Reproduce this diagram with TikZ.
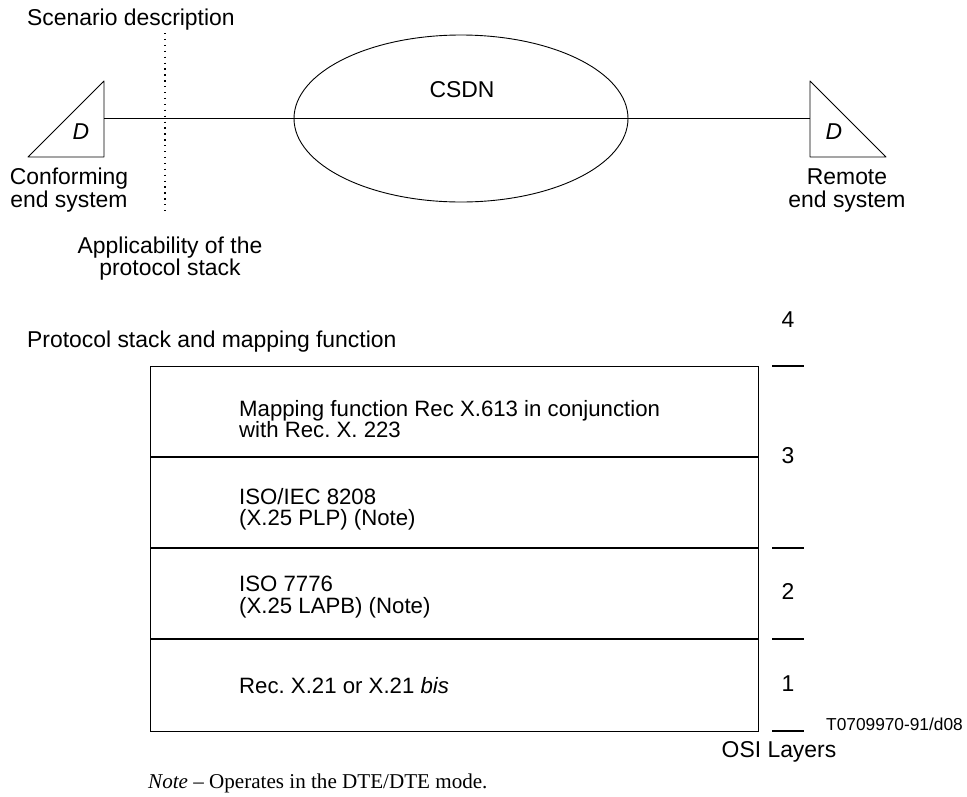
\documentclass[tikz,border=0pt]{standalone}
\usepackage{fontspec}
\setmainfont{Liberation Sans}
\newfontfamily\notefont{Liberation Serif}
\usetikzlibrary{shapes.geometric}
\AtBeginDocument{\frenchspacing}
\tikzset{
  lbl/.style={inner sep=0pt,font=\fontsize{22.9}{23}\selectfont,anchor=base},
  lbll/.style={lbl,anchor=base west},
  boxt/.style={lbll,font=\fontsize{22.2}{23}\selectfont},
  lin/.style={line width=0.9pt,black},
  thick line/.style={line width=1.4pt,black}
}
\begin{document}
\begin{tikzpicture}[x=1pt,y=-1pt]
\useasboundingbox (0,0) rectangle (967,796);
% Scenario
\node[lbll] (scen) at (27,25) {Scenario description};
\coordinate (dtop) at (165,33);
\coordinate (dbot) at (165,211);
\draw[line width=1.2pt,dash pattern=on 1.3pt off 4.6pt] (dtop) -- (dbot);
\coordinate (la) at (28,157);
\coordinate (lb) at (104,157);
\coordinate (lc) at (104,81);
\draw[lin,line join=round] (la) -- (lb) -- (lc) -- cycle;
\coordinate (ra) at (886,157);
\coordinate (rb) at (810,157);
\coordinate (rc) at (810,81);
\draw[lin,line join=round] (ra) -- (rb) -- (rc) -- cycle;
\node[draw,lin,ellipse,minimum width=334pt,minimum height=167pt,inner sep=0pt] (csdn) at (461,118.5) {};
\coordinate (lw) at (104,118);
\coordinate (re) at (810,118);
\draw[lin] (lw) -- (re);
\node[lbl] (csdnt) at (462,97) {CSDN};
\node[lbl,font=\fontsize{22.9}{23}\selectfont\itshape] (dl) at (81,139) {D};
\node[lbl,font=\fontsize{22.9}{23}\selectfont\itshape] (dr) at (834,139) {D};
\node[lbl] (confa) at (69,184) {Conforming};
\node[lbl] (confb) at (69,207) {end system};
\node[lbl] (rema) at (847,184) {Remote};
\node[lbl] (remb) at (847,207) {end system};
\node[lbl] (appa) at (170,253) {Applicability of the};
\node[lbl] (appb) at (170,275) {protocol stack};
% Stack
\node[lbll] (prot) at (27,347) {Protocol stack and mapping function};
\node[draw,lin,minimum width=608pt,minimum height=364.5pt,inner sep=0pt,anchor=north west] (stack) at (150,366) {};
\coordinate (w1) at (150,457); \coordinate (e1) at (758,457);
\coordinate (w2) at (150,548); \coordinate (e2) at (758,548);
\coordinate (w3) at (150,639); \coordinate (e3) at (758,639);
\draw[thick line] (w1) -- (e1);
\draw[thick line] (w2) -- (e2);
\draw[thick line] (w3) -- (e3);
\node[boxt] (t1a) at (239,416) {Mapping function Rec X.613 in conjunction};
\node[boxt] (t1b) at (239,437) {with Rec. X. 223};
\node[boxt] (t2a) at (239,504) {ISO/IEC 8208};
\node[boxt] (t2b) at (239,525) {(X.25 PLP) (Note)};
\node[boxt] (t3a) at (239,591) {ISO 7776};
\node[boxt] (t3b) at (239,613) {(X.25 LAPB) (Note)};
\node[boxt] (t4) at (239,693) {Rec. X.21 or X.21 \textit{bis}};
% ticks
\foreach \y/\n in {366/a,548/b,639/c,731/d}{
  \coordinate (tl\n) at (772,\y); \coordinate (tr\n) at (804,\y);
  \draw[thick line] (tl\n) -- (tr\n);
}
\node[lbl] (n4) at (788,327) {4};
\node[lbl] (n3) at (788,463) {3};
\node[lbl] (n2) at (788,599) {2};
\node[lbl] (n1) at (788,691) {1};
\node[lbl,anchor=base west,font=\fontsize{17.3}{18}\selectfont] (code) at (826,730) {T0709970-91/d08};
\node[lbl] (osi) at (779,757) {OSI Layers};
\node[inner sep=0pt,anchor=base west,font=\notefont\fontsize{21.1}{22}\selectfont] (note) at (148,788) {\textit{Note} – Operates in the DTE/DTE mode.};
\end{tikzpicture}
\end{document}
